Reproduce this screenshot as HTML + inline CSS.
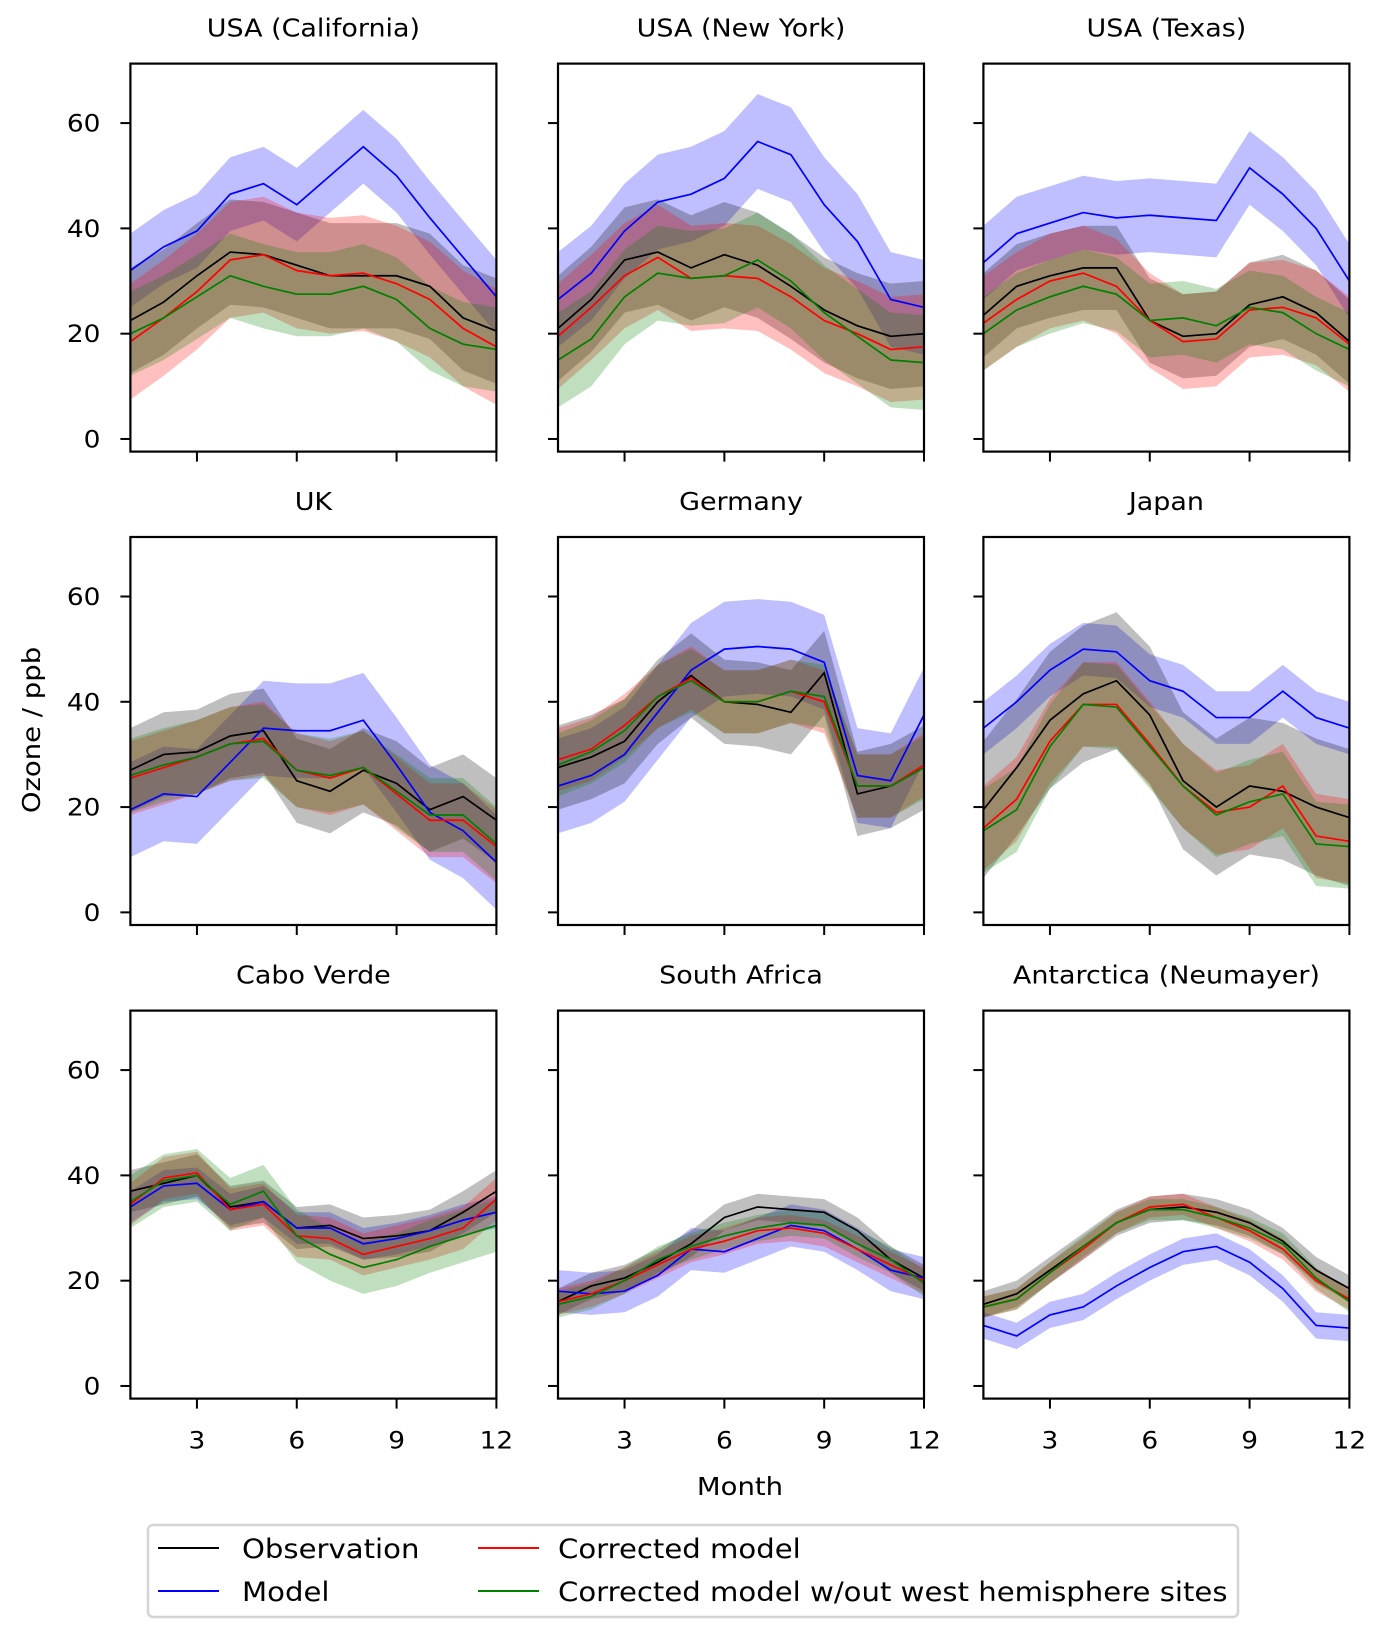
<!DOCTYPE html>
<html><head><meta charset="utf-8">
<style>
html,body{margin:0;padding:0;background:#fff;}
svg text{font-family:"DejaVu Sans","Liberation Sans",sans-serif;fill:#000;}
</style></head>
<body>
<svg id="fig" width="1387" height="1639" viewBox="0 0 1387 1639" xmlns="http://www.w3.org/2000/svg"></svg>
<script>
const titles = ["USA (California)","USA (New York)","USA (Texas)","UK","Germany","Japan","Cabo Verde","South Africa","Antarctica (Neumayer)"];
const months = [1,2,3,4,5,6,7,8,9,10,11,12];
const yTicks = [0,20,40,60];
const xTicks = [3,6,9,12];
const obsVals = [
 [22.5,26,31,35.5,35,33,31,31,31,29,23,20.5],
 [21,26.5,34,35.5,32.5,35,33,29,24.5,21.5,19.5,20],
 [23.5,29,31,32.5,32.5,22.5,19.5,20,25.5,27,24,18.5],
 [27,30,30.5,33.5,34.5,25,23,27,24.5,19.5,22,17.5],
 [27.5,29.5,32.5,40,45,40,39.5,38,45.5,22.5,24,27.5],
 [19.5,27.5,36.5,41.5,44,37.5,25,20,24,23,20,18],
 [37,38.5,40,34,35,30,30.5,28,28.5,29.5,33,37],
 [16,19,20.5,23.5,27,32,34,33.5,33,29.5,24,20.5],
 [15.5,17.5,22,26.5,31,33.5,34,33,31,27.5,22,18.5]];
const modelVals = [
 [32,36.5,39.5,46.5,48.5,44.5,50,55.5,50,42,34.5,27],
 [26.5,31.5,39.5,45,46.5,49.5,56.5,54,44.5,37.5,26.5,25],
 [33.5,39,41,43,42,42.5,42,41.5,51.5,46.5,40,30],
 [19.5,22.5,22,28.5,35,34.5,34.5,36.5,28,19,15.5,9.5],
 [24,26,30,38,46,50,50.5,50,47.5,26,25,37.5],
 [35,40,46,50,49.5,44,42,37,37,42,37,35],
 [34,38,38.5,33.5,35,30,30,27,28,29.5,31.5,33],
 [18,17.5,18,21,26,25.5,28,30.5,29.5,26,22,20.5],
 [11.5,9.5,13.5,15,19,22.5,25.5,26.5,23.5,18.5,11.5,11]];
const corrVals = [
 [18.5,23,28,34,35,32,31,31.5,29.5,26.5,21,17.5],
 [19.5,25,31,34.5,30.5,31,30.5,27,22.5,20,17,17.5],
 [22,26.5,30,31.5,29,22.5,18.5,19,24.5,25,23,18],
 [25.5,27.5,29.5,32,33,27,25.5,27.5,22.5,17.5,17.5,12.5],
 [29,31,35.5,41,44.5,40,40,42,40,24,24,28],
 [16,21.5,32.5,39.5,39.5,32,24,19,20,24,14.5,13.5],
 [34.5,39.5,40.5,33.5,34.5,28.5,28,25,26.5,28,30,35.5],
 [16,17.5,20,23,26,27.5,29.5,30,29,26,23,20],
 [15,16.5,21.5,26,31,34,34.5,32,29.5,26,20,16.5]];
const greenVals = [
 [20,23,27,31,29,27.5,27.5,29,26.5,21,18,17],
 [15,19,27,31.5,30.5,31,34,30,24,19.5,15,14.5],
 [20,24.5,27,29,27.5,22.5,23,21.5,25,24,20,17],
 [26,28,29.5,32,32.5,27,26,27.5,23,18.5,18.5,13],
 [28,30.5,34.5,41,44,40,40,42,41,24,24,27.5],
 [15.5,19.5,31.5,39.5,39,31.5,24,18.5,21,22.5,13,12.5],
 [35,39,40,34.5,37,28.5,25,22.5,24,26.5,28.5,30.5],
 [15.5,17,20,24,26.5,28.5,30,31,30.5,27,24,19.5],
 [15,16.5,21.5,26.5,31,33.5,33.5,32,30,27,20.5,16]];
// band half-widths (ppb) per panel: obs, model, corrected, green
const obsSpread   = [10,10,8,8,8,13,4,2.5,2.5];
const modelSpread = [7,9,7,9,9,5,3,4,2.5];
const corrSpread  = [11,10,9,7,6,8,4,2.5,2];
const greenSpread = [8,9,7,7,6,8,5,2.5,2];

const NS="http://www.w3.org/2000/svg";
const svg=document.getElementById('fig');
const SX=1.1;
function mk(tag,attrs,parent){const e=document.createElementNS(NS,tag);for(const k in attrs)e.setAttribute(k,attrs[k]);(parent||svg).appendChild(e);return e;}
function txt(x,y,s,size,anchor,parent,rot){
  const tr='translate('+x+' '+y+')'+(rot?' rotate('+rot+')':'')+' scale('+SX+' 1)';
  const e=mk('text',{x:0,y:0,transform:tr,'text-anchor':anchor,'font-size':size},parent);
  e.textContent=s;return e;
}
const colL=[130.4,558,983.4], W=366, rowT=[63.6,537,1010.6], H=388;
const yMin=-2.4, yMax=71.3;
for(let p=0;p<9;p++){
  const c=p%3, r=Math.floor(p/3);
  const x0=colL[c], y0=rowT[r];
  const xs=m=>x0+(m-1)/11*W;
  const ys=v=>y0+H-(v-yMin)/(yMax-yMin)*H;
  const g=mk('g',{});
  
  
  const t=txt(x0+W/2,y0-27,titles[p],24.5,'middle',g);
  
  
  const clip=mk('clipPath',{id:'c'+p},g);
  mk('rect',{x:x0,y:y0,width:W,height:H},clip);
  const plot=mk('g',{'clip-path':'url(#c'+p+')'},g);
  const series=[[modelVals[p],modelSpread[p],'#0000ff','model'],[obsVals[p],obsSpread[p],'#000000','observation'],[corrVals[p],corrSpread[p],'#ff0000','corrected-model'],[greenVals[p],greenSpread[p],'#008000','corrected-model-no-west']];
  series.forEach(s=>{
    const up=s[0].map((v,i)=>xs(months[i])+','+ys(v+s[1])).join(' ');
    const lo=s[0].map((v,i)=>xs(months[i])+','+ys(v-s[1])).reverse().join(' ');
    const b=mk('polygon',{points:up+' '+lo,fill:s[2],'fill-opacity':0.25,stroke:'none'},plot);
    
    
  });
  [series[1],series[0],series[2],series[3]].forEach(s=>{
    const l=mk('polyline',{points:s[0].map((v,i)=>xs(months[i])+','+ys(v)).join(' '),fill:'none',stroke:s[2],'stroke-width':1.7},plot);
    
    
  });
  const fr=mk('rect',{x:x0,y:y0,width:W,height:H,fill:'none',stroke:'#000','stroke-width':2.2},g);
  
  
  yTicks.forEach(v=>{
    mk('line',{x1:x0-10,x2:x0,y1:ys(v),y2:ys(v),stroke:'#000','stroke-width':2},g);
    if(c===0){const tl=txt(x0-30,ys(v)+8.5,String(v),24,'end',g);
      
      }
  });
  xTicks.forEach(v=>{
    mk('line',{x1:xs(v),x2:xs(v),y1:y0+H,y2:y0+H+10,stroke:'#000','stroke-width':2},g);
    if(r===2){const tl=txt(xs(v),y0+H+50,String(v),24,'middle',g);
      
      }
  });
}
const yt=txt(40,730,'Ozone / ppb',25,'middle',svg,-90);


const xt=txt(740,1495,'Month',25,'middle',svg);


const lg=mk('g',{});


mk('rect',{x:148,y:1525,width:1090,height:92,rx:5,fill:'#fff',stroke:'#d4d4d4','stroke-width':2.5},lg);
const legLabels=['Observation','Model','Corrected model','Corrected model w/out west hemisphere sites'];
const legColors=['#000000','#0000ff','#ff0000','#008000'];
const legNames=['observation','model','corrected-model','corrected-no-west'];
legLabels.forEach((s,i)=>{
  const col=Math.floor(i/2), row=i%2;
  const lx=col?478:158, tx=col?558:242, ly=row?1591:1548;
  const eg=mk('g',{},lg);
  
  
  mk('line',{x1:lx,x2:lx+61,y1:ly,y2:ly,stroke:legColors[i],'stroke-width':2},eg);
  txt(tx,ly+10,s,26.5,'start',eg);
});
</script>
</body></html>
